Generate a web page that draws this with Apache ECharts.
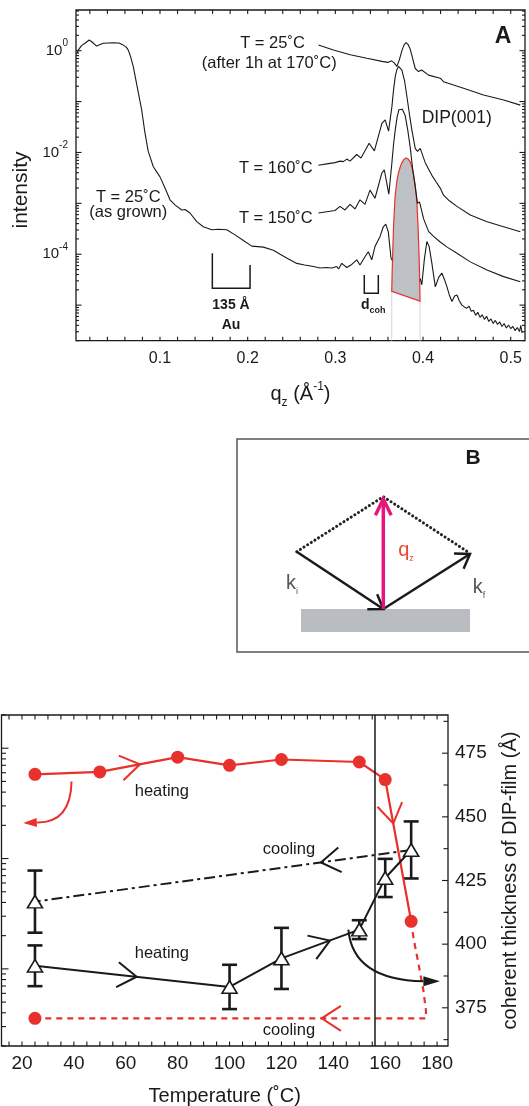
<!DOCTYPE html>
<html>
<head>
<meta charset="utf-8">
<title>DIP film: reflectivity and coherent thickness</title>
<script src="https://cdn.jsdelivr.net/npm/echarts@6/dist/echarts.min.js"></script>
<style>
  html, body { margin: 0; padding: 0; background: #fff; }
  #chart { width: 529px; height: 1106px; }
</style>
</head>
<body>
<div id="chart"></div>
<script>
// ---------- panel A: reflectivity, q_z (1/Å) and log10(intensity) ----------
const asGrownLowQ = [0.0058, 0.0067, 0.0105, 0.0144, 0.0193, 0.0225, 0.0277, 0.0353, 0.0467, 0.0530, 0.0581, 0.0615,
  0.0638, 0.0665, 0.0695, 0.0740, 0.0791, 0.0829, 0.0866, 0.0924, 0.1000, 0.1057, 0.1114, 0.1171, 0.1248, 0.1285,
  0.1342, 0.1419, 0.1494, 0.1590, 0.1666, 0.1761, 0.1856, 0.1951, 0.2047, 0.2179, 0.2293, 0.2370, 0.2450, 0.2560,
  0.2650, 0.2750, 0.2826, 0.2900, 0.2960, 0.3016, 0.3036, 0.3073, 0.3130, 0.3187, 0.3244, 0.3281, 0.3338, 0.3376,
  0.3415, 0.3452, 0.3510, 0.3547, 0.3575, 0.3604, 0.3635, 0.3648]
const asGrownLowLogI = [-0.05, 0.01, 0.10, 0.145, 0.21, 0.17, 0.09, 0.145, 0.157, 0.15, 0.11, 0.07,
  0.01, -0.12, -0.31, -0.71, -1.165, -1.62, -1.98, -2.28, -2.48, -2.70, -2.93, -3.03, -3.13, -3.12,
  -3.19, -3.36, -3.46, -3.52, -3.51, -3.52, -3.62, -3.73, -3.84, -3.86, -3.92, -4.00, -4.08, -4.18,
  -4.21, -4.24, -4.27, -4.26, -4.27, -4.24, -4.29, -4.18, -4.26, -4.20, -4.11, -4.21, -4.05, -3.95,
  -4.11, -3.85, -3.65, -3.46, -3.41, -3.56, -4.08, -4.12]
const asGrownHighQ = [0.3968, 0.3986, 0.4015, 0.4044, 0.4070, 0.4101, 0.4140, 0.4180, 0.4215, 0.4245, 0.4273, 0.4300,
  0.4330, 0.4360, 0.4387, 0.4415, 0.4444, 0.4475, 0.4500, 0.4525, 0.4550, 0.4575, 0.4600, 0.4625, 0.4650, 0.4675,
  0.4700, 0.4725, 0.4750, 0.4775, 0.4800, 0.4825, 0.4850, 0.4875, 0.4900, 0.4925, 0.4950, 0.4975, 0.5000, 0.5025,
  0.5050, 0.5075, 0.5100, 0.5115, 0.5130]
const asGrownHighLogI = [-4.48, -4.60, -4.10, -3.75, -3.85, -4.18, -4.64, -4.45, -4.37, -4.50, -4.64, -4.80,
  -4.93, -4.82, -4.80, -4.92, -5.00, -5.04, -5.06, -5.02, -5.12, -5.10, -5.20, -5.14, -5.24, -5.19,
  -5.28, -5.22, -5.32, -5.27, -5.36, -5.30, -5.38, -5.33, -5.42, -5.36, -5.45, -5.39, -5.46, -5.42,
  -5.50, -5.44, -5.52, -5.40, -5.55]
// DIP(001) Bragg peak of the as-grown film (shaded), closed by its sloping base
const peakQ = [0.3643, 0.3648, 0.3654, 0.3665, 0.3681, 0.3700, 0.3718, 0.3737, 0.3756, 0.3780, 0.3806, 0.3830,
  0.3852, 0.3872, 0.3889, 0.3910, 0.3928, 0.3942, 0.3954, 0.3961, 0.3966]
const peakLogI = [-4.73, -4.35, -3.98, -3.40, -2.87, -2.58, -2.41, -2.30, -2.21, -2.14, -2.11, -2.13,
  -2.18, -2.28, -2.41, -2.64, -2.93, -3.40, -3.98, -4.45, -4.92]

const t150Q = [0.2807, 0.2920, 0.2996, 0.3053, 0.3110, 0.3167, 0.3224, 0.3281, 0.3338, 0.3395, 0.3452, 0.3529,
  0.3558, 0.3610, 0.3645, 0.3665, 0.3683, 0.3705, 0.3725, 0.3740, 0.3765, 0.3797, 0.3825, 0.3854, 0.3880,
  0.3911, 0.3937, 0.3960, 0.4006, 0.4063, 0.4120, 0.4196, 0.4275, 0.4387, 0.4539, 0.4730, 0.4919, 0.5110]
const t150LogI = [-3.19, -3.16, -3.14, -3.06, -3.13, -3.02, -3.11, -2.93, -3.02, -2.74, -2.90, -2.41,
  -2.34, -2.82, -2.20, -1.82, -1.56, -1.30, -1.16, -1.13, -1.15, -1.28, -1.55, -1.90, -2.30,
  -2.67, -3.00, -2.97, -3.30, -3.55, -3.65, -3.76, -3.86, -3.98, -4.15, -4.31, -4.44, -4.54]

const t160Q = [0.2807, 0.2920, 0.2996, 0.3053, 0.3091, 0.3130, 0.3167, 0.3244, 0.3293, 0.3385, 0.3445, 0.3531,
  0.3568, 0.3607, 0.3645, 0.3665, 0.3683, 0.3700, 0.3721, 0.3740, 0.3759, 0.3790, 0.3816, 0.3845, 0.3873,
  0.3911, 0.3937, 0.3968, 0.4025, 0.4101, 0.4150, 0.4196, 0.4234, 0.4300, 0.4387, 0.4539, 0.4730, 0.4919, 0.5110]
const t160LogI = [-2.25, -2.22, -2.20, -2.17, -2.18, -2.13, -2.17, -2.04, -2.11, -1.82, -1.97, -1.43,
  -1.36, -1.58, -1.10, -0.75, -0.51, -0.38, -0.31, -0.31, -0.38, -0.60, -0.90, -1.25, -1.56,
  -1.92, -1.98, -1.92, -2.20, -2.45, -2.58, -2.70, -2.84, -2.95, -3.06, -3.23, -3.36, -3.46, -3.56]

const annealQ = [0.2807, 0.2978, 0.3169, 0.3360, 0.3531, 0.3600, 0.3640, 0.3665, 0.3702, 0.3730, 0.3759, 0.3785,
  0.3808, 0.3830, 0.3854, 0.3880, 0.3911, 0.3949, 0.3985, 0.4006, 0.4063, 0.4196, 0.4234, 0.4462, 0.4690, 0.4919, 0.5110]
const annealLogI = [0.11, 0.014, -0.08, -0.15, -0.21, -0.23, -0.20, -0.23, -0.31, -0.18, 0.00, 0.12,
  0.16, 0.12, 0.03, -0.14, -0.35, -0.41, -0.38, -0.39, -0.48, -0.54, -0.61, -0.74, -0.87, -0.97, -1.07]

// ---------- panel C: temperature series ----------
const redHeatT = [25, 50, 80, 100, 120, 150, 160, 170]
const redHeatI = [58, 61, 83, 70, 79, 75, 52, 2.7]
const redCoolT = [170, 170.9, 172.8, 174.7, 175.7, 175.7, 25]
const redCoolI = [2.7, 1.9, 1.12, 0.64, 0.42, 0.356, 0.356]
const redEnd = [25, 0.356]

const heatT = [25, 100, 120, 150, 160, 170]
const heatThick = [391.5, 383.2, 394.4, 405.7, 426.0, 437.0]
const heatErr = [8.0, 8.7, 12.0, 3.7, 7.5, 11.2]
const coolT = [170, 25]
const coolThick = [437.0, 416.7]
const coolErr = [11.2, 12.2]
const transitionT = 155.8

const qTicks = []
for (let i = 1; i <= 25; i++) qTicks.push(+(i * 0.02).toFixed(2))
const tempTicks = []
for (let t = 15; t <= 180; t += 5) tempTicks.push(t)
const thickTicks = []
for (let v = 362.5; v <= 490; v += 12.5) thickTicks.push(v)

const FONT = '"Liberation Sans", Arial, Helvetica, sans-serif'
const INK = '#1a1a1a'
const RED = '#e8302c'

const pow10 = (qs, ls) => qs.map((q, i) => [q, Math.pow(10, ls[i])])
const pairs = (xs, ys) => xs.map((x, i) => [x, ys[i]])
const near = (v, step) => Math.abs(v / step - Math.round(v / step)) < 1e-6

const chart = echarts.init(document.getElementById('chart'))

const blackLine = (data) => ({
  type: 'line', xAxisIndex: 0, yAxisIndex: 0, data, symbol: 'none', silent: true,
  lineStyle: { color: INK, width: 1.1 }
})

const option = {
  animation: false,
  backgroundColor: '#fff',
  textStyle: { fontFamily: FONT, color: INK },
  grid: [
    { left: 76, top: 10, width: 449, height: 330.7, show: true, borderColor: INK, borderWidth: 1.3,
      backgroundColor: 'transparent', containLabel: false, outerBoundsMode: 'none' },
    { left: 1.5, top: 715, width: 446.5, height: 331, show: true, borderColor: INK, borderWidth: 1.3,
      backgroundColor: 'transparent', containLabel: false, outerBoundsMode: 'none' }
  ],
  xAxis: [
    {
      gridIndex: 0, type: 'value', min: 0.0042, max: 0.5163, splitNumber: 5,
      axisLine: { show: false }, axisTick: { show: false }, splitLine: { show: false },
      axisLabel: {
        fontSize: 16, color: INK, fontFamily: FONT, margin: 10,
        formatter: v => (near(v, 0.1) && v > 0.05) ? v.toFixed(1) : ''
      },
      name: '{a|q}{s|z}{a| (Å}{p|-1}{a|)}', nameLocation: 'middle', nameGap: 40,
      nameTextStyle: {
        rich: {
          a: { fontSize: 20, fontFamily: FONT, color: INK, lineHeight: 28 },
          s: { fontSize: 12, fontFamily: FONT, color: INK, verticalAlign: 'bottom' },
          p: { fontSize: 12, fontFamily: FONT, color: INK, verticalAlign: 'top' }
        }
      }
    },
    {
      gridIndex: 1, type: 'value', min: 12.1, max: 184.2, splitNumber: 8,
      axisLine: { show: false }, axisTick: { show: false }, splitLine: { show: false },
      axisLabel: {
        fontSize: 19, color: INK, fontFamily: FONT, margin: 8,
        formatter: v => near(v, 20) ? String(Math.round(v)) : ''
      },
      name: 'Temperature (˚C)', nameLocation: 'middle', nameGap: 40,
      nameTextStyle: { fontSize: 20, fontFamily: FONT, color: INK }
    }
  ],
  yAxis: [
    {
      gridIndex: 0, type: 'log', logBase: 10, min: 2e-6, max: 6.3,
      axisLine: { show: false }, axisTick: { show: false }, splitLine: { show: false },
      axisLabel: {
        margin: 8,
        formatter: v => {
          const l = Math.log10(v)
          const e = Math.round(l)
          if (Math.abs(l - e) > 1e-6 || e % 2 !== 0) return ''
          return '{b|10}{s|' + e + '}'
        },
        rich: {
          b: { fontSize: 15, fontFamily: FONT, color: INK, lineHeight: 24 },
          s: { fontSize: 10, fontFamily: FONT, color: INK, verticalAlign: 'top' }
        }
      }
    },
    {
      gridIndex: 1, type: 'log', logBase: 10, min: 0.2, max: 200, show: false,
      splitLine: { show: false }
    },
    {
      gridIndex: 1, type: 'value', position: 'right', min: 360, max: 490, splitNumber: 26,
      axisLine: { show: false }, axisTick: { show: false }, splitLine: { show: false },
      axisLabel: {
        fontSize: 19, color: INK, fontFamily: FONT, margin: 7,
        formatter: v => (near(v, 25) && v >= 375 && v <= 475) ? String(Math.round(v)) : ''
      },
      name: 'coherent thickness of DIP-film (Å)', nameLocation: 'middle', nameGap: 52,
      nameTextStyle: { fontSize: 20, fontFamily: FONT, color: INK }
    }
  ],
  series: [
    blackLine(pow10(asGrownLowQ, asGrownLowLogI)),
    blackLine(pow10(asGrownHighQ, asGrownHighLogI)),
    {
      type: 'custom', xAxisIndex: 0, yAxisIndex: 0, silent: true,
      data: [[peakQ[0], Math.pow(10, peakLogI[0])]],
      renderItem(params, api) {
        const pts = peakQ.map((q, i) => api.coord([q, Math.pow(10, peakLogI[i])]))
        const bottom = params.coordSys.y + params.coordSys.height
        const a = pts[0]
        const b = pts[pts.length - 1]
        return {
          type: 'group',
          children: [
            { type: 'line', shape: { x1: a[0], y1: a[1], x2: a[0], y2: bottom }, style: { stroke: '#d6d6d6', lineWidth: 1 } },
            { type: 'line', shape: { x1: b[0], y1: b[1], x2: b[0], y2: bottom }, style: { stroke: '#d6d6d6', lineWidth: 1 } },
            { type: 'polygon', shape: { points: pts }, style: { fill: '#bdc1c6', stroke: RED, lineWidth: 1.2 } }
          ]
        }
      }
    },
    blackLine(pow10(t150Q, t150LogI)),
    blackLine(pow10(t160Q, t160LogI)),
    blackLine(pow10(annealQ, annealLogI)),

    {
      type: 'line', xAxisIndex: 1, yAxisIndex: 1, data: pairs(redCoolT, redCoolI), symbol: 'none', silent: true,
      lineStyle: { color: RED, width: 2.2, type: [6, 5] }
    },
    {
      type: 'line', xAxisIndex: 1, yAxisIndex: 1, data: pairs(redHeatT, redHeatI), silent: true,
      symbol: 'circle', symbolSize: 13, itemStyle: { color: RED, opacity: 1 }, lineStyle: { color: RED, width: 2.2 }
    },
    {
      type: 'scatter', xAxisIndex: 1, yAxisIndex: 1, data: [redEnd], silent: true,
      symbol: 'circle', symbolSize: 13, itemStyle: { color: RED, opacity: 1 }
    },
    {
      type: 'line', xAxisIndex: 1, yAxisIndex: 2, data: pairs(heatT, heatThick), symbol: 'none', silent: true,
      lineStyle: { color: INK, width: 2 }
    },
    {
      type: 'line', xAxisIndex: 1, yAxisIndex: 2, data: pairs(coolT, coolThick), symbol: 'none', silent: true,
      lineStyle: { color: INK, width: 2, type: [11, 4, 3, 4] }
    },
    {
      type: 'custom', xAxisIndex: 1, yAxisIndex: 2, silent: true, z: 3,
      data: heatT.map((t, i) => [t, heatThick[i], heatErr[i]]).concat([[coolT[1], coolThick[1], coolErr[1]]]),
      renderItem(params, api) {
        const x = api.value(0), c = api.value(1), e = api.value(2)
        const hi = api.coord([x, c + e])
        const lo = api.coord([x, c - e])
        const w = 7.5
        const st = { stroke: INK, lineWidth: 2.6 }
        return {
          type: 'group',
          children: [
            { type: 'line', shape: { x1: hi[0], y1: hi[1], x2: lo[0], y2: lo[1] }, style: st },
            { type: 'line', shape: { x1: hi[0] - w, y1: hi[1], x2: hi[0] + w, y2: hi[1] }, style: st },
            { type: 'line', shape: { x1: lo[0] - w, y1: lo[1], x2: lo[0] + w, y2: lo[1] }, style: st }
          ]
        }
      }
    },
    {
      type: 'scatter', xAxisIndex: 1, yAxisIndex: 2, silent: true, z: 6,
      data: pairs(heatT, heatThick).concat([[coolT[1], coolThick[1]]]),
      symbol: 'triangle', symbolSize: [15, 12.5],
      itemStyle: { color: '#fff', borderColor: INK, borderWidth: 1.6, opacity: 1 },
      markLine: {
        silent: true, symbol: ['none', 'none'], label: { show: false },
        lineStyle: { color: INK, width: 1.5, type: 'solid' },
        data: [{ xAxis: transitionT }]
      }
    }
  ]
}
chart.setOption(option)

// ---------- ticks, annotations and panel B ----------
const FA = { xAxisIndex: 0, yAxisIndex: 0 }
const FCL = { xAxisIndex: 1, yAxisIndex: 1 }
const FCR = { xAxisIndex: 1, yAxisIndex: 2 }
const P = (f, x, y) => chart.convertToPixel(f, [x, y])
const g = []
const seg = (x1, y1, x2, y2, stroke, w) =>
  g.push({ type: 'line', silent: true, shape: { x1, y1, x2, y2 }, style: { stroke: stroke || INK, lineWidth: w || 1.1 } })

function box(f, xr, yr) {
  const a = P(f, xr[0], yr[0]), b = P(f, xr[1], yr[1])
  return { l: a[0], b: a[1], r: b[0], t: b[1] }
}

// panel A ticks
const bA = box(FA, [0.0042, 0.5163], [2e-6, 6.3])
qTicks.forEach(q => {
  const x = P(FA, q, 1e-3)[0]
  seg(x, bA.b, x, bA.b - 4)
  seg(x, bA.t, x, bA.t + 4)
})
for (let d = -6; d <= 0; d++) {
  for (let k = 1; k <= 9; k++) {
    const v = k * Math.pow(10, d)
    if (v < 2e-6 || v > 6.3) continue
    const y = P(FA, 0.1, v)[1]
    const len = k === 1 ? 5.5 : 3
    seg(bA.l, y, bA.l + len, y)
    seg(bA.r, y, bA.r - len, y)
  }
}

// panel C ticks
const bC = box(FCR, [12.1, 184.2], [360, 490])
tempTicks.forEach(t => {
  const x = P(FCR, t, 400)[0]
  seg(x, bC.b, x, bC.b - 4.5)
  seg(x, bC.t, x, bC.t + 4.5)
})
for (let d = -1; d <= 2; d++) {
  for (let k = 1; k <= 9; k++) {
    const v = k * Math.pow(10, d)
    if (v < 0.2 || v > 200) continue
    const y = P(FCL, 50, v)[1]
    seg(bC.l, y, bC.l + (k === 1 ? 7 : 4.5), y)
  }
}
thickTicks.forEach(v => {
  const y = P(FCR, 50, v)[1]
  seg(bC.r, y, bC.r - (near(v, 25) ? 6 : 4.5), y)
})

function text(f, x, y, str, size, extra) {
  const p = P(f, x, y)
  g.push({
    type: 'text', silent: true, x: p[0], y: p[1], z: 20,
    style: Object.assign({
      text: str, fill: INK, fontSize: size, fontFamily: FONT,
      align: 'center', verticalAlign: 'middle', textAlign: 'center', textVerticalAlign: 'middle'
    }, extra || {})
  })
}
function poly(f, pts, stroke, w) {
  g.push({ type: 'polyline', silent: true, z: 20, shape: { points: pts.map(p => P(f, p[0], p[1])) },
    style: { stroke, lineWidth: w, fill: null } })
}
// open V-shaped arrowhead placed on a line, pointing from `at` toward `to`
function chevron(f, at, to, color) {
  const p = P(f, at[0], at[1]), q = P(f, to[0], to[1])
  const back = Math.atan2(q[1] - p[1], q[0] - p[0]) + Math.PI
  const L = 23, h = 33 * Math.PI / 180
  g.push({ type: 'polyline', silent: true, z: 20,
    shape: { points: [[p[0] + L * Math.cos(back + h), p[1] + L * Math.sin(back + h)], p,
      [p[0] + L * Math.cos(back - h), p[1] + L * Math.sin(back - h)]] },
    style: { stroke: color, lineWidth: 2, fill: null } })
}
function curvedArrow(f, start, ctrl, end, tip, color, hw) {
  const s = P(f, start[0], start[1]), c = P(f, ctrl[0], ctrl[1])
  const e = P(f, end[0], end[1]), t = P(f, tip[0], tip[1])
  g.push({ type: 'bezierCurve', silent: true, z: 20,
    shape: { x1: s[0], y1: s[1], cpx1: c[0], cpy1: c[1], x2: e[0], y2: e[1] },
    style: { stroke: color, lineWidth: 2, fill: null } })
  const a = Math.atan2(t[1] - e[1], t[0] - e[0])
  const nx = -Math.sin(a) * hw, ny = Math.cos(a) * hw
  g.push({ type: 'polygon', silent: true, z: 20,
    shape: { points: [t, [e[0] + nx, e[1] + ny], [e[0] - nx, e[1] - ny]] },
    style: { fill: color } })
}

// panel A annotations
const ex = v => Math.pow(10, v)
text(FA, 0.2283, ex(0.145), 'T = 25˚C', 16.5)
text(FA, 0.2246, ex(-0.251), '(after 1h at 170˚C)', 16.5)
text(FA, 0.2321, ex(-2.31), 'T = 160˚C', 16.5)
text(FA, 0.2321, ex(-3.293), 'T = 150˚C', 16.5)
text(FA, 0.0638, ex(-2.88), 'T = 25˚C', 16.5)
text(FA, 0.0638, ex(-3.175), '(as grown)', 16.5)
text(FA, 0.4384, ex(-1.322), 'DIP(001)', 17.5)
text(FA, 0.4912, ex(0.275), 'A', 23, { fontWeight: 'bold' })
poly(FA, [[0.1597, ex(-3.98)], [0.1597, ex(-4.668)], [0.2027, ex(-4.668)], [0.2027, ex(-4.21)]], INK, 1.5)
text(FA, 0.181, ex(-4.996), '135 Å', 14, { fontWeight: 'bold' })
text(FA, 0.181, ex(-5.389), 'Au', 14, { fontWeight: 'bold' })
poly(FA, [[0.3330, ex(-4.407)], [0.3330, ex(-4.766)], [0.3490, ex(-4.766)], [0.3490, ex(-4.407)]], INK, 1.5)
text(FA, 0.3433, ex(-4.996), '{d|d}{s|coh}', 14, {
  rich: {
    d: { fontSize: 14, fontWeight: 'bold', fontFamily: FONT, fill: INK, lineHeight: 20 },
    s: { fontSize: 9, fontWeight: 'bold', fontFamily: FONT, fill: INK, verticalAlign: 'bottom' }
  }
})

// panel C annotations
chevron(FCL, [65.5, 71.5], [80, 83], RED)
chevron(FCL, [163.1, 20.8], [170, 2.7], RED)
chevron(FCL, [135.5, 0.356], [25, 0.356], RED)
chevron(FCR, [64.2, 387.2], [100, 383.2], INK)
chevron(FCR, [138.7, 401.4], [150, 405.7], INK)
chevron(FCR, [135.2, 432.1], [25, 416.7], INK)
curvedArrow(FCR, [39.1, 463.9], [38.8, 447.6], [25.7, 447.8], [20.5, 447.6], RED, 4.5)
curvedArrow(FCR, [145.8, 405.7], [147.5, 386], [174.7, 385.4], [181.1, 385.4], INK, 5)
text(FCR, 73.9, 459.9, 'heating', 16.5)
text(FCR, 73.9, 396.3, 'heating', 16.5)
text(FCR, 122.9, 437.1, 'cooling', 16.5)
text(FCR, 122.9, 366.1, 'cooling', 16.5)

// y-axis title of panel A
g.push({ type: 'text', silent: true, x: 21, y: 190, rotation: Math.PI / 2,
  style: { text: 'intensity', fill: INK, fontSize: 21, fontFamily: FONT, align: 'center', verticalAlign: 'middle',
    textAlign: 'center', textVerticalAlign: 'middle' } })

// panel B: scattering geometry sketch
function headAt(tip, from, len, half, color, w) {
  const back = Math.atan2(from[1] - tip[1], from[0] - tip[0])
  const h = half * Math.PI / 180
  g.push({ type: 'polyline', silent: true,
    shape: { points: [[tip[0] + len * Math.cos(back + h), tip[1] + len * Math.sin(back + h)], tip,
      [tip[0] + len * Math.cos(back - h), tip[1] + len * Math.sin(back - h)]] },
    style: { stroke: color, lineWidth: w, fill: null } })
}
g.push({ type: 'rect', silent: true, shape: { x: 237, y: 439, width: 300, height: 213 },
  style: { stroke: '#555', lineWidth: 1.5, fill: null } })
g.push({ type: 'text', silent: true, x: 473, y: 458,
  style: { text: 'B', fill: INK, fontSize: 21, fontWeight: 'bold', fontFamily: FONT, align: 'center', verticalAlign: 'middle',
    textAlign: 'center', textVerticalAlign: 'middle' } })
g.push({ type: 'rect', silent: true, shape: { x: 301, y: 609, width: 169, height: 23 }, style: { fill: '#b9bdc1' } })
g.push({ type: 'polyline', silent: true, shape: { points: [[296.7, 551.7], [383.3, 496.7], [470, 553.3]] },
  style: { stroke: '#222', lineWidth: 3, lineDash: [0.1, 4.2], lineCap: 'round', fill: null } })
seg(296.7, 551.7, 383.3, 609, INK, 2.5)
headAt([383.3, 609], [296.7, 551.7], 16, 34, INK, 2.5)
seg(383.3, 609, 470, 554, INK, 2.5)
headAt([470, 554], [383.3, 609], 16, 34, INK, 2.5)
seg(383.3, 609, 383.3, 499, '#e5177f', 3.5)
headAt([383.3, 499], [383.3, 609], 18, 26, '#e5177f', 3.5)
const subLabel = (x, y, main, sub, color) => g.push({
  type: 'text', silent: true, x, y,
  style: {
    text: '{m|' + main + '}{s|' + sub + '}', align: 'center', verticalAlign: 'middle',
    textAlign: 'center', textVerticalAlign: 'middle',
    rich: {
      m: { fontSize: 20, fontFamily: FONT, fill: color, lineHeight: 26 },
      s: { fontSize: 9, fontFamily: FONT, fill: color, verticalAlign: 'bottom' }
    }
  }
})
subLabel(292, 583, 'k', 'i', '#555')
subLabel(479, 587, 'k', 'f', '#555')
subLabel(406, 550, 'q', 'z', '#e8492e')

chart.setOption({ graphic: { elements: g } })
</script>
</body>
</html>
